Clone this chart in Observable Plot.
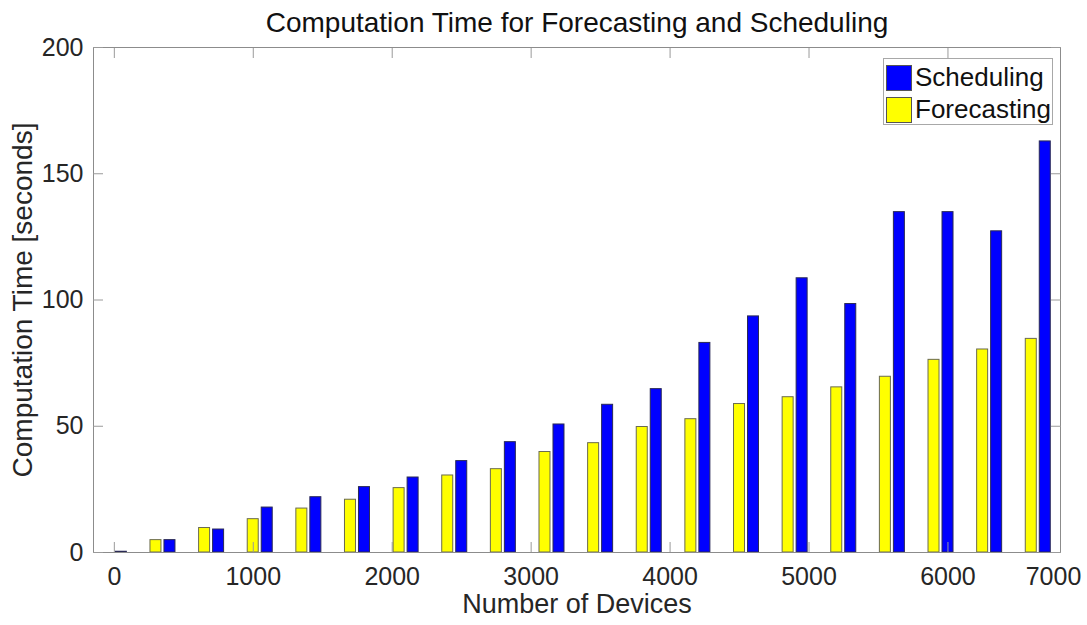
<!DOCTYPE html>
<html>
<head>
<meta charset="utf-8">
<script src="https://cdn.jsdelivr.net/npm/d3@7"></script>
<script src="https://cdn.jsdelivr.net/npm/@observablehq/plot@0.6"></script>
<style>
  html, body { margin: 0; padding: 0; background: #fff; }
  #wrap { position: relative; width: 1087px; height: 625px; font-family: "Liberation Sans", Arial, Helvetica, sans-serif; }
  #legend { position: absolute; left: 883px; top: 58px; width: 170px; height: 67px; border: 1px solid #a8a8a8; background: #fff; box-sizing: border-box; }
  .li { position: absolute; left: 2px; display: flex; align-items: center; font-size: 26px; color: #111; }
  .sw { width: 26px; height: 26px; box-sizing: border-box; border: 1px solid #555; margin-right: 3px; }
</style>
</head>
<body>
<div id="wrap"></div>
<script>
// ---- data ----
const devices = [0, 350, 700, 1050, 1400, 1750, 2100, 2450, 2800, 3150, 3500, 3850, 4200, 4550, 4900, 5250, 5600, 5950, 6300, 6650];
const scheduling = [0.3, 4.9, 9.1, 17.8, 21.9, 25.9, 29.7, 36.2, 43.7, 50.7, 58.5, 64.7, 83.0, 93.5, 108.6, 98.4, 134.8, 134.8, 127.2, 162.8];
const forecasting = [0, 4.9, 9.7, 13.2, 17.4, 20.9, 25.5, 30.5, 33.0, 39.8, 43.3, 49.7, 52.8, 58.8, 61.5, 65.4, 69.6, 76.3, 80.4, 84.6];
const seriesNames = ["Scheduling", "Forecasting"];
const seriesColors = ["#0000ff", "#ffff00"];
const xTickValues = [0, 1000, 2000, 3000, 4000, 5000, 6000, 7000];
const yTickValues = [0, 50, 100, 150, 200];
const titleText = "Computation Time for Forecasting and Scheduling";
const xLabel = "Number of Devices";
const yLabel = "Computation Time [seconds]";

const table = devices.map((n, i) => ({n, s: scheduling[i], f: forecasting[i]}));
const xDomain = [-150, 6810];
const xTicksIn = xTickValues.filter(v => v <= xDomain[1]);
const xTicksOut = xTickValues.filter(v => v > xDomain[1]);

const font = "Liberation Sans, Arial, Helvetica, sans-serif";
const tickColor = "#9a9a9a";
const fmt = d => String(d);

const chart = Plot.plot({
  width: 1087,
  height: 625,
  marginLeft: 93,
  marginRight: 27,
  marginTop: 47,
  marginBottom: 73,
  style: {fontFamily: font, background: "#fff", color: "#262626"},
  x: {domain: xDomain, label: null},
  y: {domain: [0, 200], label: null},
  marks: [
    Plot.rect(table, {x1: "n", x2: "n", y1: 0, y2: "f", fill: seriesColors[1], stroke: "#6b6b50", strokeWidth: 1,
      insetLeft: -5.5, insetRight: -5.5, dx: -7}),
    Plot.rect(table, {x1: "n", x2: "n", y1: 0, y2: "s", fill: seriesColors[0], stroke: "#2a2a55", strokeWidth: 1,
      insetLeft: -5.5, insetRight: -5.5, dx: 7}),
    Plot.frame({stroke: "#8c8c8c"}),
    Plot.axisX(xTicksIn, {anchor: "bottom", tickSize: -10, tickPadding: 25, fontSize: 25, tickFormat: fmt, stroke: tickColor, fill: "#262626", label: null}),
    Plot.axisX(xTicksIn, {anchor: "top", tickSize: -10, tickFormat: () => "", stroke: tickColor, label: null}),
    Plot.text(xTicksOut, {text: fmt, frameAnchor: "bottom-right", dx: -7, dy: 15, lineAnchor: "top", textAnchor: "middle", fontSize: 25, fill: "#262626"}),
    Plot.axisY(yTickValues, {anchor: "left", tickSize: -10, tickPadding: 20, fontSize: 25, tickFormat: fmt, stroke: tickColor, fill: "#262626", label: null}),
    Plot.axisY(yTickValues, {anchor: "right", tickSize: -10, tickFormat: () => "", stroke: tickColor, label: null}),
    Plot.text([titleText], {frameAnchor: "top", dy: -24, lineAnchor: "middle", textAnchor: "middle", fontSize: 28, fill: "#111"}),
    Plot.text([xLabel], {frameAnchor: "bottom", dy: 52, lineAnchor: "middle", textAnchor: "middle", fontSize: 27, fill: "#262626"}),
    Plot.text([yLabel], {frameAnchor: "left", dx: -70, rotate: -90, lineAnchor: "middle", textAnchor: "middle", fontSize: 28, fill: "#262626"})
  ]
});

const wrap = document.getElementById("wrap");
wrap.appendChild(chart);

// legend
const legend = document.createElement("div");
legend.id = "legend";
seriesNames.forEach((name, i) => {
  const row = document.createElement("div");
  row.className = "li";
  row.style.top = (3 + i * 32) + "px";
  const sw = document.createElement("div");
  sw.className = "sw";
  sw.style.background = seriesColors[i];
  const t = document.createElement("span");
  t.textContent = name;
  row.appendChild(sw);
  row.appendChild(t);
  legend.appendChild(row);
});
wrap.appendChild(legend);
</script>
</body>
</html>
